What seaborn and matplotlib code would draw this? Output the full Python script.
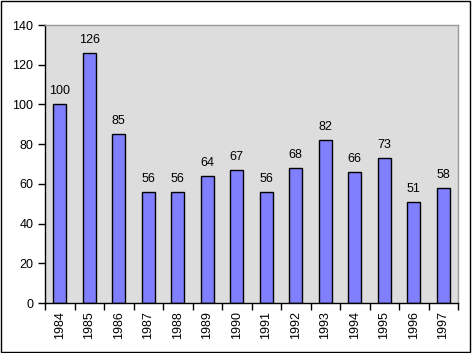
import numpy as np
import pandas as pd
import matplotlib
matplotlib.use("Agg")
import matplotlib.pyplot as plt
import seaborn as sns
from matplotlib.patches import Rectangle

years = ["1984", "1985", "1986", "1987", "1988", "1989", "1990",
         "1991", "1992", "1993", "1994", "1995", "1996", "1997"]
values = [100, 126, 85, 56, 56, 64, 67, 56, 68, 82, 66, 73, 51, 58]
y_ticks = [0, 20, 40, 60, 80, 100, 120, 140]

df = pd.DataFrame({"year": years, "value": values})

sns.set_style("white")
plt.rcParams["font.family"] = ["Liberation Sans", "DejaVu Sans"]
plt.rcParams["text.color"] = "black"
plt.rcParams["xtick.color"] = "black"
plt.rcParams["ytick.color"] = "black"

fig = plt.figure(figsize=(4.72, 3.53), dpi=100)
ax = fig.add_axes([45 / 472, 1 - 303 / 353, 413 / 472, 278 / 353])
ax.set_facecolor("#dddddd")

sns.barplot(data=df, x="year", y="value", color="#8080ff", width=0.44,
            edgecolor="black", linewidth=1, saturation=1, ax=ax)

for i, v in enumerate(values):
    ax.text(i, v + 3.5, str(v), ha="center", va="bottom", fontsize=9,
            color="black")

ax.set_xlim(-0.5, len(years) - 0.5)
ax.set_ylim(0, 140)
ax.set_yticks(y_ticks)
ax.set_xlabel("")
ax.set_ylabel("")

# x tick marks between categories, labels at the centres
ax.set_xticks(np.arange(len(years) + 1) - 0.5, minor=True)
ax.tick_params(axis="x", which="major", length=0, labelrotation=90,
               labelsize=9, pad=6, labelcolor="black")
ax.tick_params(axis="x", which="minor", length=5, width=1, color="black",
               direction="out", bottom=True)
ax.tick_params(axis="y", length=5, width=1, color="black", direction="out",
               labelsize=9, left=True, labelcolor="black")

for side in ["left", "bottom"]:
    ax.spines[side].set_color("black")
    ax.spines[side].set_linewidth(1)
for side in ["top", "right"]:
    ax.spines[side].set_color("#999999")
    ax.spines[side].set_linewidth(1)

fig.patches.append(Rectangle((0.002, 0.003), 0.994, 0.994, transform=fig.transFigure,
                             fill=False, edgecolor="black", linewidth=1))

fig.savefig("out.png", dpi=100)
